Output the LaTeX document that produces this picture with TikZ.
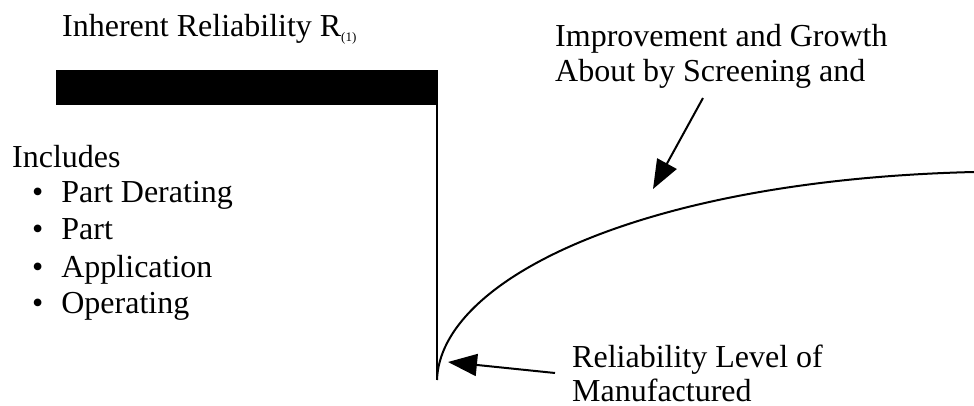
\documentclass[tikz,border=0pt]{standalone}
\usepackage{fontspec}
\setmainfont{Liberation Serif}
\usetikzlibrary{arrows.meta}
\begin{document}
\begin{tikzpicture}[x=1pt,y=-1pt,
  txt/.style={anchor=base west,inner sep=0pt,font=\fontsize{32}{35}\selectfont},
  pointer/.style={line width=2pt,-{Triangle[length=29pt,width=22pt]}}]
\useasboundingbox (0,0) rectangle (974,406);
\node[txt] (title) at (62,37) {Inherent Reliability R\raisebox{-5pt}{\fontsize{13}{13}\selectfont(1)}};
\fill (56,70) rectangle (438,105);
\coordinate (corner) at (437,105);
\coordinate (start) at (437,380);
\coordinate (finish) at (974,172);
\draw[line width=2pt] (corner)--(start);
\draw[line width=2pt] (start) .. controls (440,280) and (640,180) .. (finish);
\node[txt] (incl) at (12,168) {Includes};
\node[txt] (b1) at (32,203) {•\hspace{18pt}Part Derating};
\node[txt] (b2) at (32,240) {•\hspace{18pt}Part};
\node[txt] (b3) at (32,277) {•\hspace{18pt}Application};
\node[txt] (b4) at (32,313) {•\hspace{18pt}Operating};
\node[txt] (growth) at (555,47) {Improvement and Growth};
\node[txt] (growth2) at (555,82) {About by Screening and};
\node[txt] (level) at (572,367) {Reliability Level of};
\node[txt] (level2) at (572,401) {Manufactured};
\coordinate (tail1) at (703,98);
\coordinate (head1) at (653,189);
\coordinate (tail2) at (555,373);
\coordinate (head2) at (448,362);
\draw[pointer] (tail1)--(head1);
\draw[pointer] (tail2)--(head2);
\end{tikzpicture}
\end{document}
